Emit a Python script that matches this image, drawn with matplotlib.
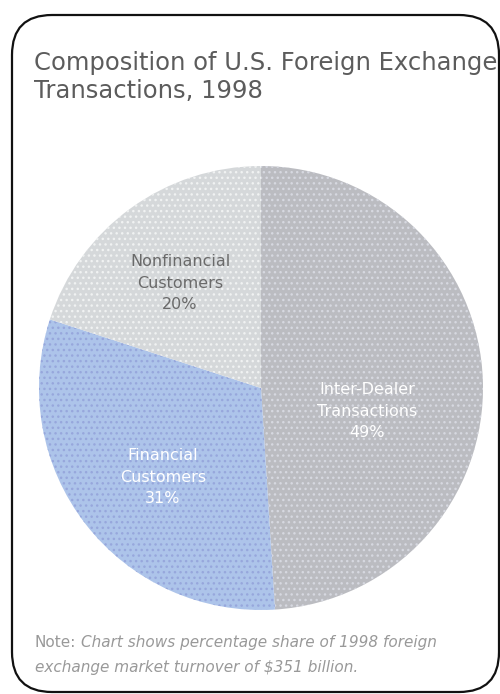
import matplotlib
matplotlib.use("Agg")
import matplotlib.pyplot as plt
from matplotlib.patches import FancyBboxPatch

# ---- data ----
categories = ["Inter-Dealer\nTransactions", "Financial\nCustomers", "Nonfinancial\nCustomers"]
shares = [49, 31, 20]
title_lines = ["Composition of U.S. Foreign Exchange", "Transactions, 1998"]
note_lead = "Note:"
note_body_1 = "Chart shows percentage share of 1998 foreign"
note_body_2 = "exchange market turnover of $351 billion."

colors = ["#bbbcc1", "#adc4ea", "#d5d8da"]
hatch_colors = ["#d6d8e0", "#97a7dc", "#f0f2f2"]
label_colors = ["white", "white", "#6a6a6a"]

W, H = 500, 694
fig = plt.figure(figsize=(W / 100, H / 100), dpi=100)
ax = fig.add_axes([0, 0, 1, 1])

def py(y):
    return H - y

wedges, _ = ax.pie(shares, startangle=90, counterclock=False,
                   colors=colors, center=(261, py(388)), radius=222,
                   wedgeprops=dict(linewidth=0))
for w, hc in zip(wedges, hatch_colors):
    w.set_hatch("...")
    w.set_edgecolor(hc)
    w.set_linewidth(0)

ax.set_xlim(0, W)
ax.set_ylim(0, H)
ax.set_aspect("equal")
ax.axis("off")

label_pos = [(367, 411), (163, 477), (180, 283)]
for cat, s, (x, y), c in zip(categories, shares, label_pos, label_colors):
    ax.text(x, py(y), f"{cat}\n{s}%", ha="center", va="center", color=c,
            fontsize=11.5, linespacing=1.55, family="DejaVu Sans")

for line, yb in zip(title_lines, [70, 98]):
    ax.text(34, py(yb), line, ha="left", va="baseline", color="#5c5c5c",
            fontsize=17.5, family="DejaVu Sans")

ax.text(35, py(647), note_lead, ha="left", va="baseline", color="#999999",
        fontsize=11, family="DejaVu Sans")
ax.text(81, py(647), note_body_1, ha="left", va="baseline", color="#999999",
        fontsize=11, style="italic", family="DejaVu Sans")
ax.text(35, py(672), note_body_2, ha="left", va="baseline", color="#999999",
        fontsize=11, style="italic", family="DejaVu Sans")

box = FancyBboxPatch((12, py(692)), 487, 677,
                     boxstyle="round,pad=0,rounding_size=40",
                     linewidth=1.6, edgecolor="#111111", facecolor="none",
                     clip_on=False)
ax.add_patch(box)

fig.savefig("out.png", dpi=100, facecolor="white")
